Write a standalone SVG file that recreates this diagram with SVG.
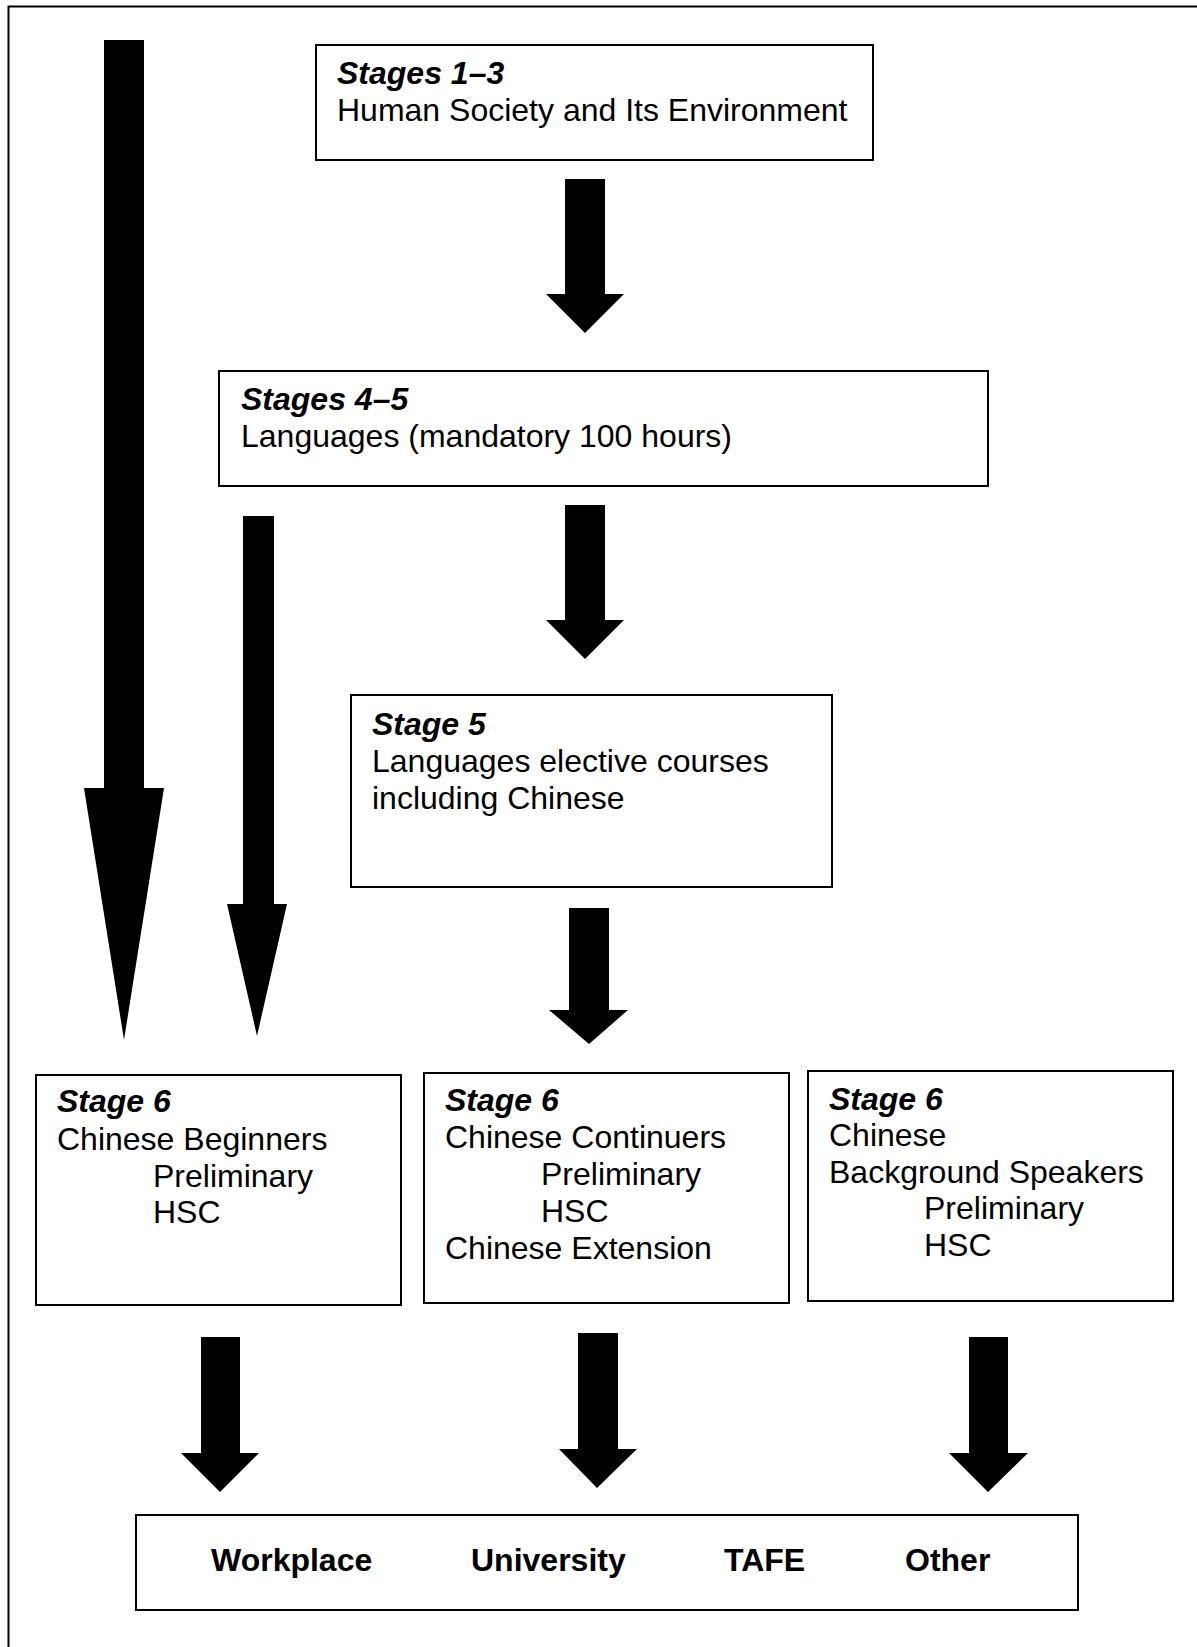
<svg xmlns="http://www.w3.org/2000/svg" width="1197" height="1647" viewBox="0 0 1197 1647">
<style>
.box{fill:#fff;stroke:#000;stroke-width:2}
.t{font-family:"Liberation Sans",Arial,sans-serif;font-size:32px;fill:#000}
.h{font-weight:bold;font-style:italic}
.b{font-weight:bold}
.arr{fill:#000}
</style>
<rect width="1197" height="1647" fill="#fff"/>
<g id="frame"><path d="M8.5,1647 V6.5 H1197" fill="none" stroke="#000" stroke-width="2"/></g>
<g id="connectors">
<polygon class="arr" points="104,40 144,40 144,788 164,788 124,1040 84,788 104,788"/>
<polygon class="arr" points="243,516 274,516 274,904 287,904 257,1036 227,904 243,904"/>
<polygon class="arr" points="565,179 605,179 605,294 624,294 585,333 546,294 565,294"/>
<polygon class="arr" points="565,505 605,505 605,620 624,620 585,659 546,620 565,620"/>
<polygon class="arr" points="569,908 609,908 609,1010 628,1010 589,1044 549,1010 569,1010"/>
<polygon class="arr" points="201,1337 240,1337 240,1453 259,1453 220,1492 181,1453 201,1453"/>
<polygon class="arr" points="578,1333 618,1333 618,1449 637,1449 597,1488 559,1449 578,1449"/>
<polygon class="arr" points="969,1337 1008,1337 1008,1453 1028,1453 988,1492 949,1453 969,1453"/>
</g>
<g id="stages13">
<rect class="box" x="316" y="45" width="557" height="115"/>
<text class="t h" x="337" y="84">Stages 1–3</text>
<text class="t" x="337" y="121">Human Society and Its Environment</text>
</g>
<g id="stages45">
<rect class="box" x="219" y="371" width="769" height="115"/>
<text class="t h" x="241" y="410">Stages 4–5</text>
<text class="t" x="241" y="447">Languages (mandatory 100 hours)</text>
</g>
<g id="stage5">
<rect class="box" x="351" y="695" width="481" height="192"/>
<text class="t h" x="372" y="735">Stage 5</text>
<text class="t" x="372" y="772">Languages elective courses</text>
<text class="t" x="372" y="809">including Chinese</text>
</g>
<g id="beginners">
<rect class="box" x="36" y="1075" width="365" height="230"/>
<text class="t h" x="57" y="1112">Stage 6</text>
<text class="t" x="57" y="1150">Chinese Beginners</text>
<text class="t" x="153" y="1187">Preliminary</text>
<text class="t" x="153" y="1223">HSC</text>
</g>
<g id="continuers">
<rect class="box" x="424" y="1073" width="365" height="230"/>
<text class="t h" x="445" y="1111">Stage 6</text>
<text class="t" x="445" y="1148">Chinese Continuers</text>
<text class="t" x="541" y="1185">Preliminary</text>
<text class="t" x="541" y="1222">HSC</text>
<text class="t" x="445" y="1259">Chinese Extension</text>
</g>
<g id="background">
<rect class="box" x="808" y="1071" width="365" height="230"/>
<text class="t h" x="829" y="1110">Stage 6</text>
<text class="t" x="829" y="1146">Chinese</text>
<text class="t" x="829" y="1183">Background Speakers</text>
<text class="t" x="924" y="1219">Preliminary</text>
<text class="t" x="924" y="1256">HSC</text>
</g>
<g id="destinations">
<rect class="box" x="136" y="1515" width="942" height="95"/>
<text class="t b" x="211" y="1571">Workplace</text>
<text class="t b" x="471" y="1571">University</text>
<text class="t b" x="724" y="1571">TAFE</text>
<text class="t b" x="905" y="1571">Other</text>
</g>
</svg>
